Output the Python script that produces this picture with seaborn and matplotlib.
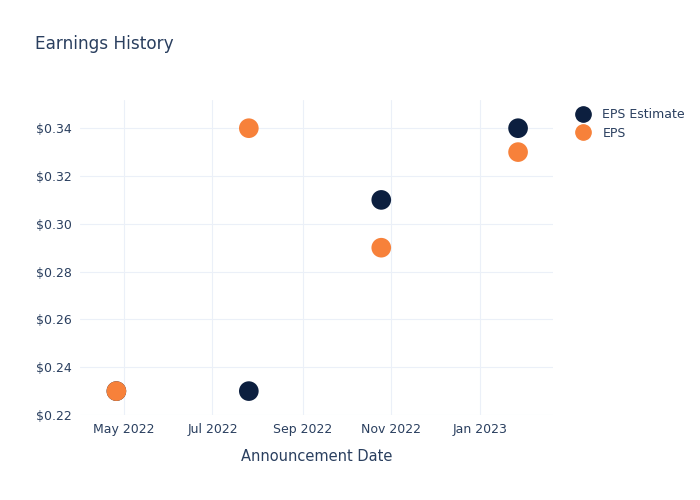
import matplotlib
matplotlib.use("Agg")
import matplotlib.pyplot as plt
import matplotlib.dates as mdates
import matplotlib.ticker as mticker
import seaborn as sns
import pandas as pd
from matplotlib.lines import Line2D

dates = ["2022-04-26", "2022-07-26", "2022-10-25", "2023-01-27"]
eps_estimate = [0.23, 0.23, 0.31, 0.34]
eps_actual = [0.23, 0.34, 0.29, 0.33]
series_names = ["EPS Estimate", "EPS"]
colors = ["#0c1f3f", "#f7813a"]

df = pd.DataFrame({
    "date": pd.to_datetime(dates * 2),
    "value": eps_estimate + eps_actual,
    "series": [series_names[0]] * len(dates) + [series_names[1]] * len(dates),
})

sns.set_theme(style="white")
text_color = "#2a3f5f"
plt.rcParams["font.family"] = ["DejaVu Sans"]

fig = plt.figure(figsize=(7, 5), dpi=100)
ax = fig.add_axes([80/700, 85/500, (553-80)/700, (415-100)/500])

sns.scatterplot(data=df, x="date", y="value", hue="series", hue_order=series_names,
                palette=colors, s=200, linewidth=0, ax=ax, legend=False, zorder=3)

ax.set_xlim(pd.Timestamp("2022-04-01"), pd.Timestamp("2023-02-20"))
ax.set_ylim(0.22, 0.3518)
ax.set_yticks([0.22, 0.24, 0.26, 0.28, 0.30, 0.32, 0.34])
ax.yaxis.set_major_formatter(mticker.FuncFormatter(lambda v, p: f"${v:.2f}"))
ax.xaxis.set_major_locator(mdates.MonthLocator(bymonth=[1, 3, 5, 7, 9, 11]))
ax.xaxis.set_major_formatter(mdates.DateFormatter("%b %Y"))

ax.grid(True, color="#ebf0f8", linewidth=0.8)
ax.set_axisbelow(True)
for sp in ax.spines.values():
    sp.set_visible(False)
ax.tick_params(axis="both", length=0, labelsize=9, colors=text_color, pad=6)
ax.set_xlabel("Announcement Date", fontsize=10.5, color=text_color, labelpad=9)
ax.set_ylabel("")

fig.text(35/700, 1 - 44/500, "Earnings History", fontsize=12.2, color=text_color,
         va="center", ha="left")

handles = [Line2D([], [], marker="o", linestyle="", markersize=11, color=c) for c in colors]
fig.legend(handles, series_names, loc="upper left", bbox_to_anchor=(570/700, 1 - 103/500),
           frameon=False, fontsize=9, labelcolor=text_color, handletextpad=1.0,
           labelspacing=0.45, borderaxespad=0, handlelength=1.2)

fig.savefig("out.png", dpi=100)
